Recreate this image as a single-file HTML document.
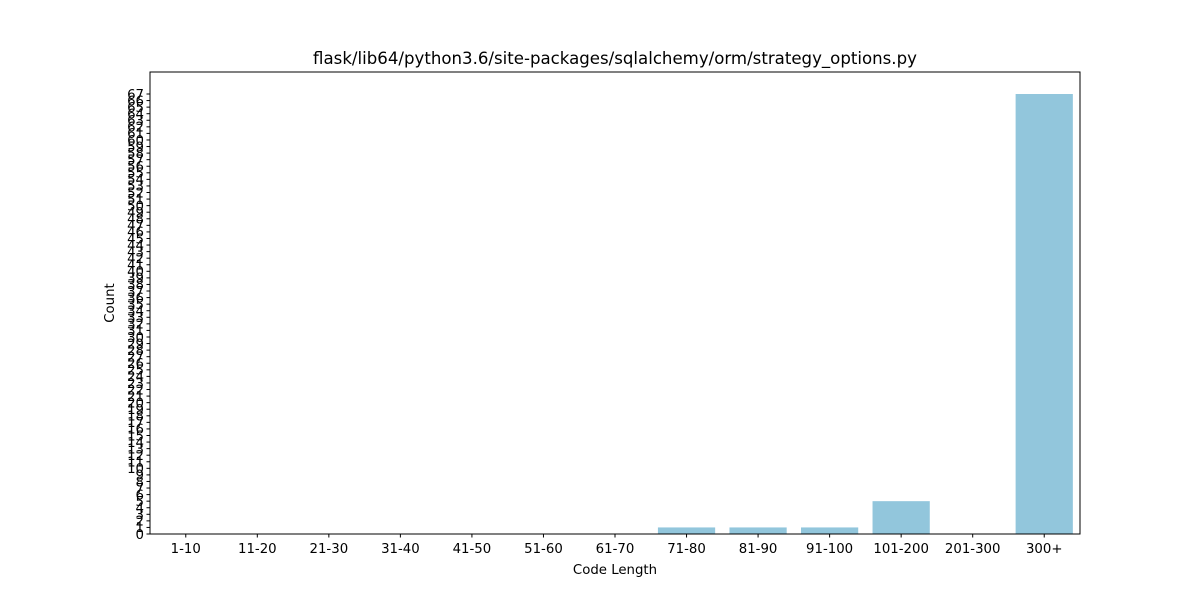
<!DOCTYPE html>
<html><head><meta charset="utf-8"><style>
body{margin:0;background:#fff}
svg{font-family:"DejaVu Sans","Liberation Sans",sans-serif}
</style></head><body>
<svg id="chart" width="1200" height="600">
<rect width="1200" height="600" fill="#fff"/>
</svg>
<script>
const categories=["1-10","11-20","21-30","31-40","41-50","51-60","61-70","71-80","81-90","91-100","101-200","201-300","300+"];
const counts=[0,0,0,0,0,0,0,1,1,1,5,0,67];
const yTickMax=67;
const svg=document.getElementById('chart');
const NS='http://www.w3.org/2000/svg';
const L=150,R=1080,T=72,B=534;
const ymax=Math.max(...counts)*1.05||1;
const x=i=>L+(i+0.5)*(R-L)/categories.length;
const y=v=>B-v/ymax*(B-T);
const bw=0.8*(R-L)/categories.length;
function mk(tag,attrs,text){const e=document.createElementNS(NS,tag);for(const k in attrs)e.setAttribute(k,attrs[k]);if(text!==undefined)e.textContent=text;svg.appendChild(e);return e;}
counts.forEach((v,i)=>{
 const r=mk('rect',{x:x(i)-bw/2,y:y(v),width:bw,height:B-y(v),fill:'#92c6dc'});
 
 
});
const ax=mk('rect',{x:L,y:T,width:R-L,height:B-T,fill:'none',stroke:'#000','stroke-width':1});


categories.forEach((c,i)=>{
 mk('line',{x1:x(i),x2:x(i),y1:B,y2:B+3.5,stroke:'#000'});
 const t=mk('text',{x:x(i),y:B+19,'text-anchor':'middle','font-size':13.3},c);
 
 
});
for(let v=0;v<=yTickMax;v++){
 mk('line',{x1:L-3.5,x2:L,y1:y(v),y2:y(v),stroke:'#000'});
 const t=mk('text',{x:L-6,y:y(v)+4.8,'text-anchor':'end','font-size':13.3},v);
 
 
}
const tt=mk('text',{x:(L+R)/2,y:64,'text-anchor':'middle','font-size':16.6},'flask/lib64/python3.6/site-packages/sqlalchemy/orm/strategy_options.py');


const xt=mk('text',{x:(L+R)/2,y:574,'text-anchor':'middle','font-size':13.3},'Code Length');


const yt=mk('text',{x:114,y:(T+B)/2,'text-anchor':'middle','font-size':13.3,transform:'rotate(-90 114 '+((T+B)/2)+')'},'Count');


</script>
</body></html>
